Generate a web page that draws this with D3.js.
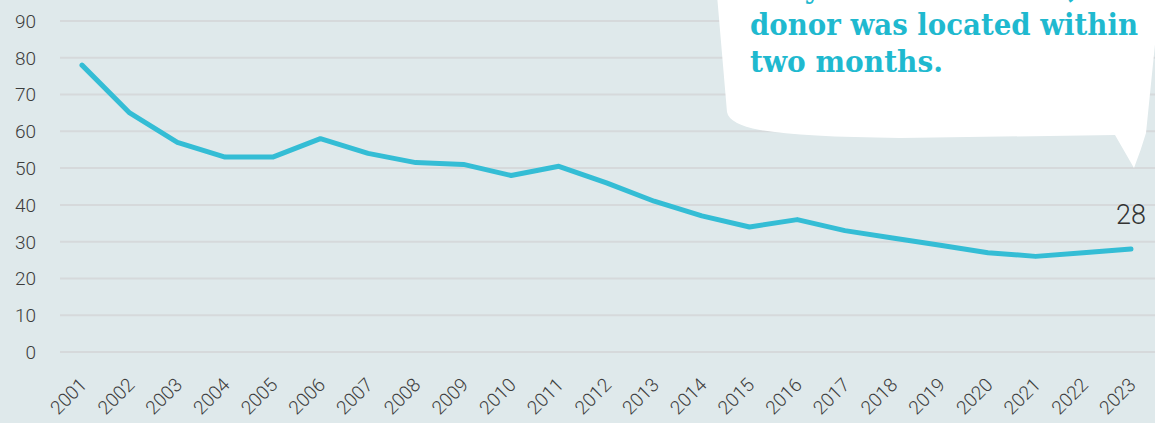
<!DOCTYPE html>
<html>
<head>
<meta charset="utf-8">
<script src="https://cdnjs.cloudflare.com/ajax/libs/d3/7.8.5/d3.min.js"></script>
<style>
    html, body { margin: 0; padding: 0; background: #dfe9eb; }
    svg { display: block; }
</style>
</head>
<body>
<div id="chart"></div>
<script>
'use strict';

// data
var years = ['2001', '2002', '2003', '2004', '2005', '2006', '2007', '2008', '2009', '2010', '2011', '2012',
    '2013', '2014', '2015', '2016', '2017', '2018', '2019', '2020', '2021', '2022', '2023'];
var values = [78, 65, 57, 53, 53, 58, 54, 51.5, 51, 48, 50.5, 46, 41, 37, 34, 36, 33, 31, 29, 27, 26, 27, 28];
var yTicks = [0, 10, 20, 30, 40, 50, 60, 70, 80, 90];
var calloutLines = ['Only in 28% of cases, the', 'donor was located within', 'two months.'];

var width = 1155,
    height = 423,
    lineColor = '#34bdd5',
    textColor = '#1fb9cf';

var svg = d3.select('#chart').append('svg')
    .attr('width', width)
    .attr('height', height);

svg.append('rect')
    .attr('width', width)
    .attr('height', height)
    .attr('fill', '#dfe9eb');

var x = d3.scalePoint().domain(years).range([82, 1131]);
var y = d3.scaleLinear().domain([0, 90]).range([352, 21]);

//gridlines
svg.append('g')
    .selectAll('line')
    .data(yTicks)
    .enter().append('line')
    .attr('x1', 60)
    .attr('x2', width)
    .attr('y1', d => y(d))
    .attr('y2', d => y(d))
    .attr('stroke', '#d6d9db')
    .attr('stroke-width', 2);

//y axis labels
svg.append('g')
    .selectAll('text')
    .data(yTicks)
    .enter().append('text')
    .attr('x', 36)
    .attr('y', d => y(d))
    .attr('dy', '0.36em')
    .attr('text-anchor', 'end')
    .attr('font-family', 'Roboto, sans-serif')
    .attr('font-weight', 300)
    .attr('font-size', 19)
    .attr('fill', '#3d3d3d')
    .text(d => d);

//x axis labels, rotated
svg.append('g')
    .selectAll('text')
    .data(years)
    .enter().append('text')
    .attr('transform', d => 'translate(' + (x(d) + 6) + ',386) rotate(-45)')
    .attr('text-anchor', 'end')
    .attr('font-family', 'Roboto, sans-serif')
    .attr('font-weight', 300)
    .attr('font-size', 19)
    .attr('fill', '#3d3d3d')
    .text(d => d);

//speech bubble, tail points at the last year
var tipX = x('2023') + 3,
    tipY = y(50);
var bubble = d3.path();
bubble.moveTo(717, -5);
bubble.lineTo(727, 112);
bubble.quadraticCurveTo(729, 124, 760, 130);
bubble.quadraticCurveTo(800, 137, 900, 138);
bubble.lineTo(1115, 135);
bubble.lineTo(tipX, tipY);
bubble.quadraticCurveTo(1141, 150, 1146, 133);
bubble.lineTo(1160, -5);
bubble.closePath();

svg.append('path')
    .attr('d', bubble.toString())
    .attr('fill', '#ffffff');

var lineWidths = [388, 388, 193];
svg.append('g')
    .selectAll('text')
    .data(calloutLines)
    .enter().append('text')
    .attr('x', 750)
    .attr('y', (d, i) => -2 + i * 37)
    .attr('font-family', '"DejaVu Serif", serif')
    .attr('font-weight', 'bold')
    .attr('font-size', 30)
    .attr('fill', textColor)
    .attr('textLength', (d, i) => lineWidths[i])
    .attr('lengthAdjust', 'spacingAndGlyphs')
    .text(d => d);

//the line
var line = d3.line()
    .x((d, i) => x(years[i]))
    .y(d => y(d));

svg.append('path')
    .datum(values)
    .attr('d', line)
    .attr('fill', 'none')
    .attr('stroke', lineColor)
    .attr('stroke-width', 5)
    .attr('stroke-linejoin', 'round')
    .attr('stroke-linecap', 'round');

//end value label
var last = values.length - 1;
svg.append('text')
    .attr('x', x(years[last]))
    .attr('y', y(values[last]) - 25)
    .attr('text-anchor', 'middle')
    .attr('font-family', 'Roboto, sans-serif')
    .attr('font-weight', 300)
    .attr('font-size', 27)
    .attr('fill', '#333333')
    .text(values[last]);
</script>
</body>
</html>
